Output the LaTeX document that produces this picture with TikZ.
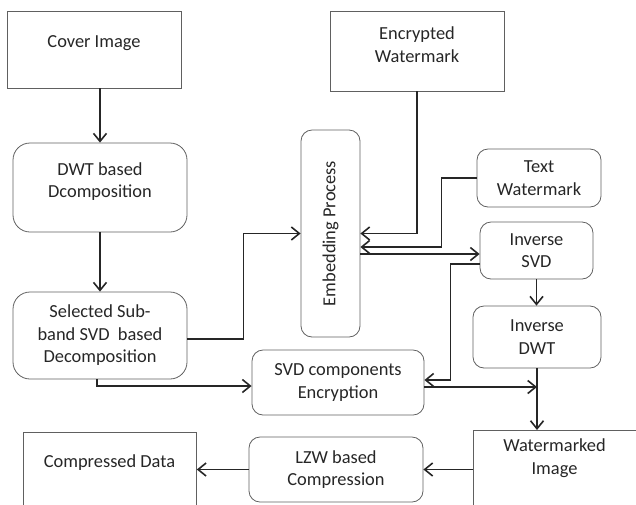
\documentclass[tikz,border=0pt]{standalone}
\usepackage{fontspec}
\setmainfont{Carlito}
\usetikzlibrary{arrows.meta,positioning}

\tikzset{
  plain/.style={draw=gray!75!black, line width=0.8pt, inner sep=0pt},
  proc/.style={plain, rounded corners=11pt, align=center, text=black!85},
  caption/.style={align=center, text=black!85, inner sep=0pt},
}

\begin{document}
\begin{tikzpicture}[x=1pt,y=-1pt,
    >={Straight Barb[length=8pt,width=13pt]},
    flow/.style={->, line width=1.6pt, black!85},
    font=\fontsize{18.4}{22.5}\selectfont]
  \useasboundingbox (0,0) rectangle (636,504);
  \clip (0,0) rectangle (636,504);

  % inputs
  \node[plain, minimum width=174, minimum height=77] (cover) at (94,49.5) {};
  \node[caption] (cover-t) at (94,43) {Cover Image};
  \node[plain, minimum width=174, minimum height=80] (encwm) at (417,51) {};
  \node[caption] (encwm-t) at (417,44.5) {Encrypted\\Watermark};

  % decomposition side
  \node[proc, rounded corners=17pt, minimum width=174, minimum height=89] (dwt) at (100,187.5) {};
  \node[caption] (dwt-t) at (100,181.5) {DWT based\\Dcomposition};
  \node[proc, rounded corners=17pt, minimum width=174, minimum height=87] (sel) at (100,335.5) {Selected Sub-\\band SVD~ based\\Decomposition};

  % embedding
  \node[proc, minimum width=59, minimum height=207] (embed) at (330.5,233.5) {};
  \node[caption, rotate=90] (embed-t) at (embed) {Embedding Process};
  \node[proc, minimum width=124, minimum height=58] (txtwm) at (539,178) {Text\\Watermark};
  \node[proc, minimum width=113, minimum height=57] (isvd) at (536.5,250.5) {Inverse\\SVD};
  \node[proc, minimum width=128, minimum height=62] (idwt) at (537,337) {Inverse\\DWT};
  \node[proc, minimum width=172, minimum height=65] (svdc) at (338,382.5) {SVD components\\Encryption};

  % output and compression
  \node[plain, anchor=north west, minimum width=175, minimum height=100] (wmimg) at (473,430) {};
  \node[caption] (wmimg-t) at (554.5,458) {Watermarked\\Image};
  \node[proc, minimum width=174, minimum height=65] (lzw) at (336,469.5) {LZW based\\Compression};
  \node[plain, anchor=north west, minimum width=173, minimum height=100] (comp) at (23,432) {};
  \node[caption] (comp-t) at (109.5,463) {Compressed Data};

  \coordinate (emb-out) at ([yshift=-20.5pt]embed.east);
  \coordinate (svdc-out) at ([yshift=-4.5pt]svdc.east);

  \draw[flow] (dwt.north |- cover.south) -- (dwt.north);
  \draw[flow] (dwt) -- (sel);
  \draw[flow] ([yshift=-3.5pt]sel.east) -- ++(56,0) |- (embed.west);
  \draw[flow] ([xshift=-3pt]sel.south) |- ([yshift=-3.5pt]svdc.west);
  \draw[flow] (encwm.south) |- (embed.east);
  \draw[flow] (txtwm.west) -- ++(-35,0) |- ([yshift=-13.5pt]embed.east);
  \draw[flow] (emb-out) -- (emb-out -| isvd.west);
  \draw[flow] ([yshift=-13.5pt]isvd.west) -- ++(-29,0) |- ([yshift=2.5pt]svdc.east);
  \draw[flow] (isvd.south) -- (isvd.south |- idwt.north);
  \draw[flow] (svdc-out) -- (svdc-out -| idwt.south);
  \draw[flow] (idwt.south) -- (idwt.south |- wmimg.north);
  \draw[flow] (wmimg.west |- lzw.east) -- (lzw.east);
  \draw[flow] (lzw.west) -- (lzw.west -| comp.east);
\end{tikzpicture}
\end{document}
